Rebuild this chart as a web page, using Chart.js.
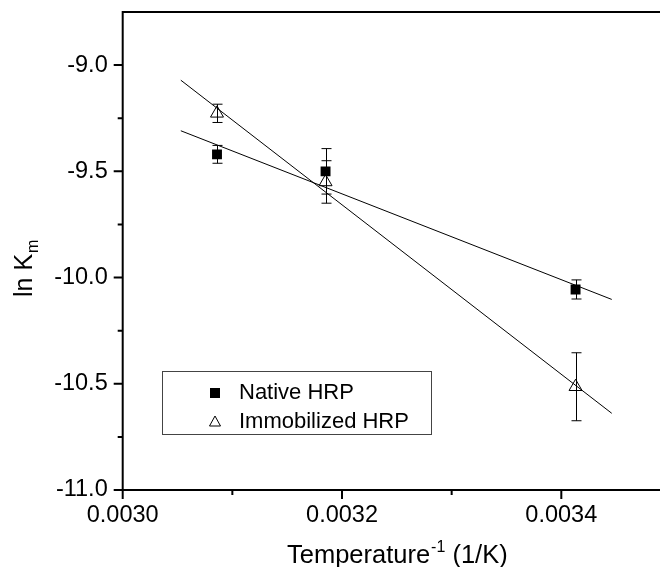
<!DOCTYPE html>
<html>
<head>
<meta charset="utf-8">
<script src="https://cdn.jsdelivr.net/npm/chart.js@4/dist/chart.umd.min.js"></script>
<style>
html,body{margin:0;padding:0;background:#fff;overflow:hidden;}
canvas{display:block;}
</style>
</head>
<body>
<canvas id="c" width="660" height="567"></canvas>
<script>
// ---- data ----
const tempInv      = [0.003086, 0.003185, 0.003413];   // 1/T (1/K)
const nativeLnKm   = [-9.42, -9.50, -10.056];
const nativeErr    = [0.042, 0.107, 0.045];
const immobLnKm    = [-9.227, -9.55, -10.514];
const immobErr     = [0.043, 0.10, 0.16];
const fitX         = [0.003053, 0.003446];
const nativeFit    = [-9.309, -10.103];
const immobFit     = [-9.071, -10.639];
const xMajorTicks  = [0.0030, 0.0032, 0.0034];
const xMinorTicks  = [0.0031, 0.0033];
const yMajorTicks  = [-11.0, -10.5, -10.0, -9.5, -9.0];
const yMinorTicks  = [-10.75, -10.25, -9.75, -9.25];
const seriesNames  = ['Native HRP', 'Immobilized HRP'];

const FONT = '"Liberation Sans", Arial, sans-serif';

const pts = (xs, ys) => xs.map((x, i) => ({x: x, y: ys[i]}));

const decor = {
  id: 'decor',
  beforeDatasetsDraw(chart) {
    const ctx = chart.ctx, xs = chart.scales.x, ys = chart.scales.y;
    ctx.save();
    ctx.strokeStyle = '#000';
    ctx.lineWidth = 1;
    const bars = (vals, errs) => {
      vals.forEach((v, i) => {
        const px = Math.round(xs.getPixelForValue(tempInv[i])) + 0.5;
        const t = ys.getPixelForValue(v + errs[i]);
        const b = ys.getPixelForValue(v - errs[i]);
        ctx.beginPath();
        ctx.moveTo(px, t); ctx.lineTo(px, b);
        ctx.moveTo(px - 5, t); ctx.lineTo(px + 5, t);
        ctx.moveTo(px - 5, b); ctx.lineTo(px + 5, b);
        ctx.stroke();
      });
    };
    bars(nativeLnKm, nativeErr);
    bars(immobLnKm, immobErr);
    ctx.restore();
  },
  afterDraw(chart) {
    const ctx = chart.ctx, xs = chart.scales.x, ys = chart.scales.y;
    const a = chart.chartArea;
    ctx.save();
    ctx.strokeStyle = '#000';
    ctx.lineWidth = 2;
    // frame: left, bottom, top
    ctx.beginPath();
    ctx.moveTo(a.left, a.top); ctx.lineTo(a.left, a.bottom);
    ctx.moveTo(a.left - 1, a.bottom); ctx.lineTo(a.right, a.bottom);
    ctx.moveTo(a.left - 1, a.top); ctx.lineTo(a.right, a.top);
    ctx.stroke();
    // ticks
    ctx.beginPath();
    xMajorTicks.forEach(v => { const p = xs.getPixelForValue(v); ctx.moveTo(p, a.bottom); ctx.lineTo(p, a.bottom + 9); });
    xMinorTicks.forEach(v => { const p = xs.getPixelForValue(v); ctx.moveTo(p, a.bottom); ctx.lineTo(p, a.bottom + 5); });
    yMajorTicks.forEach(v => { const p = ys.getPixelForValue(v); ctx.moveTo(a.left, p); ctx.lineTo(a.left - 9, p); });
    yMinorTicks.forEach(v => { const p = ys.getPixelForValue(v); ctx.moveTo(a.left, p); ctx.lineTo(a.left - 5, p); });
    ctx.stroke();

    // x title with superscript
    ctx.fillStyle = '#000';
    ctx.textBaseline = 'alphabetic';
    ctx.textAlign = 'left';
    const big = '25.5px ' + FONT, small = '16px ' + FONT;
    ctx.font = big;
    const w1 = ctx.measureText('Temperature').width;
    const w3 = ctx.measureText(' (1/K)').width;
    ctx.font = small;
    const w2 = ctx.measureText('-1').width;
    const total = w1 + w2 + w3;
    const cx = (a.left + xs.getPixelForValue(0.0035)) / 2;
    let x0 = cx - total / 2;
    const by = 563;
    ctx.font = big; ctx.fillText('Temperature', x0, by);
    ctx.font = small; ctx.fillText('-1', x0 + w1 + 1, by - 11);
    ctx.font = big; ctx.fillText(' (1/K)', x0 + w1 + w2 + 1, by);

    // y title with subscript (rotated)
    ctx.save();
    ctx.translate(32, 297);
    ctx.rotate(-Math.PI / 2);
    ctx.font = '25px ' + FONT;
    const wl = ctx.measureText('ln K').width;
    ctx.fillText('ln K', 0, 0);
    ctx.font = small;
    ctx.fillText('m', wl + 1, 6);
    ctx.restore();

    // legend
    ctx.lineWidth = 1;
    ctx.strokeStyle = '#444';
    ctx.strokeRect(162.5, 371.5, 269, 63);
    ctx.fillStyle = '#000';
    ctx.fillRect(210, 388, 10, 10);
    ctx.strokeStyle = '#000';
    ctx.beginPath();
    ctx.moveTo(215, 416); ctx.lineTo(220.5, 426); ctx.lineTo(209.5, 426); ctx.closePath();
    ctx.stroke();
    ctx.font = '22px ' + FONT;
    ctx.textBaseline = 'middle';
    ctx.fillStyle = '#000';
    ctx.fillText(seriesNames[0], 239, 393);
    ctx.fillText(seriesNames[1], 239, 422);
    ctx.restore();
  }
};

new Chart(document.getElementById('c'), {
  type: 'scatter',
  data: {
    datasets: [
      { label: seriesNames[0], data: pts(tempInv, nativeLnKm), pointStyle: 'rect', pointRadius: 7,
        backgroundColor: '#000', borderColor: '#000', borderWidth: 0 },
      { label: seriesNames[1], data: pts(tempInv, immobLnKm), pointStyle: 'triangle', pointRadius: 7.5,
        backgroundColor: 'rgba(0,0,0,0)', borderColor: '#000', borderWidth: 1 },
      { label: 'Native fit', data: pts(fitX, nativeFit), showLine: true, pointRadius: 0,
        borderColor: '#000', borderWidth: 1, fill: false },
      { label: 'Immobilized fit', data: pts(fitX, immobFit), showLine: true, pointRadius: 0,
        borderColor: '#000', borderWidth: 1, fill: false }
    ]
  },
  options: {
    responsive: false,
    animation: false,
    devicePixelRatio: 1,
    layout: { autoPadding: false, padding: { top: 12, right: 0, bottom: 0, left: 0 } },
    plugins: { legend: { display: false }, tooltip: { enabled: false } },
    scales: {
      x: {
        type: 'linear', min: 0.0030, max: 0.00349,
        afterBuildTicks: s => { s.ticks = xMajorTicks.map(v => ({value: v})); },
        afterFit: s => { s.height = 77; s.paddingLeft = 0; s.paddingRight = 0; },
        grid: { display: false, drawTicks: false },
        border: { display: false },
        ticks: { color: '#000', font: { family: FONT, size: 23.5 }, padding: 11, maxRotation: 0,
                 callback: v => Number(v).toFixed(4) }
      },
      y: {
        type: 'linear', min: -11.0, max: -8.75,
        afterBuildTicks: s => { s.ticks = yMajorTicks.map(v => ({value: v})); },
        afterFit: s => { s.width = 122.7; s.paddingTop = 0; s.paddingBottom = 0; },
        grid: { display: false, drawTicks: false },
        border: { display: false },
        ticks: { color: '#000', font: { family: FONT, size: 23.5 }, padding: 15,
                 callback: v => Number(v).toFixed(1) }
      }
    }
  },
  plugins: [decor]
});
</script>
</body>
</html>
